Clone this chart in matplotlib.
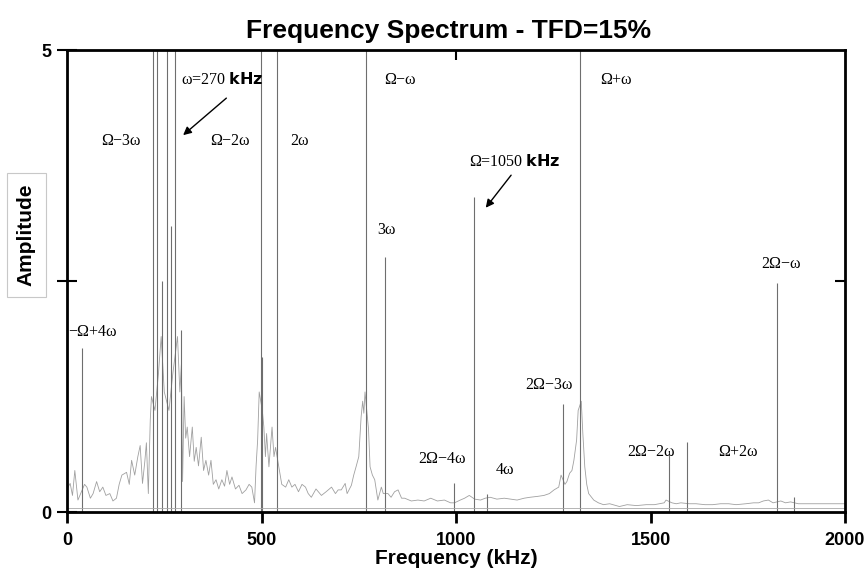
import matplotlib
matplotlib.use("Agg")
import matplotlib.pyplot as plt

# noise floor of the spectrum, (kHz, amplitude) pairs
floor_pts = [
    (0, 0.25), (8, 0.31), (14, 0.18), (20, 0.45), (28, 0.13), (45, 0.3), (51, 0.27),
    (60, 0.15), (67, 0.2), (76, 0.33), (84, 0.22), (92, 0.27), (100, 0.18), (110, 0.2),
    (118, 0.12), (127, 0.15), (134, 0.3), (141, 0.4), (153, 0.43), (160, 0.3), (166, 0.56),
    (174, 0.4), (182, 0.6), (188, 0.72), (194, 0.31), (200, 0.55), (204, 0.75), (209, 0.2),
    (214, 1.0), (217, 1.25), (226, 1.1), (235, 1.5), (242, 1.9), (250, 1.3), (262, 1.1),
    (272, 1.5), (284, 1.9), (290, 1.3), (294, 1.6), (297, 0.33), (301, 1.25), (305, 0.8),
    (309, 0.92), (315, 0.6), (322, 0.92), (327, 0.55), (332, 0.7), (338, 0.5), (345, 0.81),
    (351, 0.45), (357, 0.56), (364, 0.4), (370, 0.56), (376, 0.3), (383, 0.35), (390, 0.25),
    (398, 0.35), (405, 0.28), (411, 0.45), (418, 0.3), (424, 0.38), (433, 0.25), (442, 0.29),
    (450, 0.2), (460, 0.24), (468, 0.3), (475, 0.27), (482, 0.1), (486, 0.5), (490, 0.78),
    (494, 1.3), (502, 1.1), (506, 0.92), (510, 0.6), (513, 0.85), (519, 0.49), (523, 0.7),
    (527, 0.92), (532, 0.6), (536, 0.7), (547, 0.42), (552, 0.3), (562, 0.27), (570, 0.35),
    (578, 0.27), (586, 0.3), (595, 0.22), (604, 0.3), (613, 0.27), (620, 0.2), (628, 0.16),
    (640, 0.25), (654, 0.18), (666, 0.22), (680, 0.27), (690, 0.2), (697, 0.24), (705, 0.24),
    (715, 0.31), (720, 0.2), (731, 0.29), (737, 0.4), (743, 0.49), (750, 0.6), (756, 1.03),
    (760, 1.2), (763, 1.07), (766, 1.3), (775, 0.9), (779, 0.49), (785, 0.4), (791, 0.35),
    (799, 0.13), (808, 0.27), (813, 0.2), (825, 0.2), (833, 0.16), (842, 0.22), (851, 0.24),
    (860, 0.15), (868, 0.15), (885, 0.12), (902, 0.13), (918, 0.12), (935, 0.15), (952, 0.12),
    (970, 0.13), (986, 0.1), (996, 0.1), (1011, 0.13), (1022, 0.15), (1034, 0.18),
    (1048, 0.14), (1063, 0.13), (1075, 0.15), (1088, 0.16), (1105, 0.14), (1124, 0.15),
    (1140, 0.14), (1157, 0.13), (1175, 0.15), (1190, 0.16), (1210, 0.17), (1226, 0.18),
    (1240, 0.2), (1252, 0.24), (1264, 0.27), (1270, 0.4), (1280, 0.3), (1285, 0.33),
    (1292, 0.42), (1298, 0.45), (1303, 0.56), (1310, 0.78), (1314, 1.1), (1322, 1.2),
    (1326, 0.85), (1331, 0.49), (1336, 0.3), (1341, 0.2), (1354, 0.13), (1366, 0.1),
    (1379, 0.08), (1395, 0.09), (1420, 0.06), (1440, 0.08), (1464, 0.07), (1489, 0.08),
    (1510, 0.08), (1522, 0.09), (1535, 0.1), (1540, 0.13), (1555, 0.1), (1566, 0.09),
    (1578, 0.1), (1600, 0.09), (1617, 0.09), (1640, 0.08), (1660, 0.08), (1680, 0.09),
    (1701, 0.09), (1720, 0.08), (1745, 0.09), (1765, 0.1), (1778, 0.1), (1790, 0.12),
    (1803, 0.13), (1815, 0.1), (1835, 0.12), (1847, 0.1), (1860, 0.11), (1880, 0.09),
    (1898, 0.09), (1930, 0.09), (1957, 0.09), (1992, 0.09), (2000, 0.09),
]
floor_freq = [p[0] for p in floor_pts]
floor_amp = [p[1] for p in floor_pts]

# spectral lines (kHz, amplitude); the big ones run off the top of the plot
peak_freq = [38, 222, 230, 245, 258, 268, 278, 294, 498, 500, 541, 769, 817, 996,
             1045, 1080, 1275, 1318, 1548, 1594, 1826, 1870]
peak_amp = [1.78, 6, 6, 2.5, 6, 3.1, 6, 1.97, 6, 1.68, 6, 6, 2.76, 0.31,
            3.41, 0.2, 1.17, 6, 0.64, 0.76, 2.48, 0.16]
baseline = 0.04

# labels of the lines
lab_text = ["Ω−3ω", "Ω−2ω", "2ω", "Ω−ω", "Ω+ω", "3ω", "−Ω+4ω", "2Ω−3ω",
            "2Ω−4ω", "4ω", "2Ω−2ω", "Ω+2ω", "2Ω−ω"]
lab_x = [138, 418, 598, 855, 1412, 820, 66, 1240, 965, 1127, 1502, 1725, 1836]
lab_y = [4.02, 4.02, 4.02, 4.68, 4.68, 3.05, 1.95, 1.37, 0.57, 0.45, 0.65, 0.65, 2.69]

fig = plt.figure(figsize=(8.65, 5.76), dpi=100)
ax = fig.add_axes([0.0775, 0.111, 0.8994, 0.802])

ax.plot(floor_freq, floor_amp, color="#a0a0a0", linewidth=0.6)
ax.vlines(peak_freq, 0, peak_amp, color="#6e6e6e", linewidth=0.8)
ax.axhline(baseline, color="#a8a8a8", linewidth=0.6)

serif = "Liberation Serif"
for t, x, y in zip(lab_text, lab_x, lab_y):
    ax.text(x, y, t, family=serif, fontsize=11.5, ha="center", va="center")

# marked fundamentals
ax.text(293, 4.68, "ω=270 $\\mathbf{kHz}$", family=serif, fontsize=11.5, ha="left", va="center")
ax.annotate("", xy=(293, 4.06), xytext=(415, 4.5),
            arrowprops=dict(arrowstyle="-|>", color="black", lw=1.0, mutation_scale=12))
ax.text(1033, 3.79, "Ω=1050 $\\mathbf{kHz}$", family=serif, fontsize=11.5, ha="left", va="center")
ax.annotate("", xy=(1072, 3.27), xytext=(1146, 3.67),
            arrowprops=dict(arrowstyle="-|>", color="black", lw=1.0, mutation_scale=12))

ax.set_xlim(0, 2000)
ax.set_ylim(0, 5)
ax.set_xticks([0, 500, 1000, 1500, 2000])
ax.set_yticks([0, 2.5, 5])
ax.set_yticklabels(["0", "", "5"])
for lbl in ax.get_xticklabels() + ax.get_yticklabels():
    lbl.set_fontweight("bold")
    lbl.set_family("Liberation Sans")
    lbl.set_fontsize(13)
ax.tick_params(axis="x", direction="out", length=8, width=2, pad=6)
ax.tick_params(axis="y", direction="inout", length=14, width=1.5, pad=4)
for s in ax.spines.values():
    s.set_linewidth(2)

top = ax.secondary_xaxis("top")
top.set_xticks([1000])
top.set_xticklabels([])
top.tick_params(direction="in", length=7, width=1.5)
right = ax.secondary_yaxis("right")
right.set_yticks([2.5])
right.set_yticklabels([])
right.tick_params(direction="in", length=7, width=1.5)

ax.set_title("Frequency Spectrum - TFD=15%", family="Liberation Sans", fontweight="bold",
             fontsize=19, pad=9, x=0.49)
ax.set_xlabel("Frequency (kHz)", family="Liberation Sans", fontweight="bold", fontsize=15,
              labelpad=0)
ax.set_ylabel("Amplitude", family="Liberation Sans", fontweight="bold", fontsize=15,
              bbox=dict(boxstyle="square,pad=0.5", facecolor="white", edgecolor="#c8c8c8",
                        linewidth=0.8))
ax.yaxis.set_label_coords(-0.04, 0.6)

fig.savefig("out.png", dpi=100)
